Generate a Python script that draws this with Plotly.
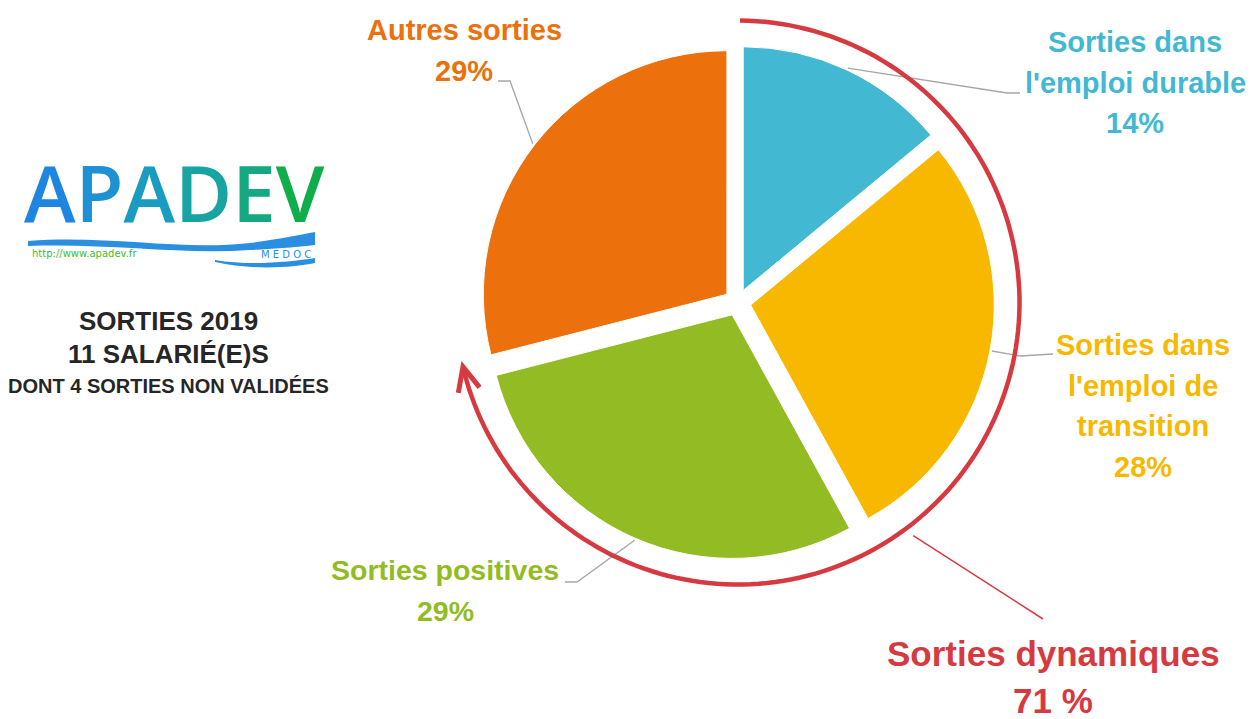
import math
import plotly.graph_objects as go

# ---- data ----
categories = ["Sorties dans<br>l'emploi durable", "Sorties dans<br>l'emploi de<br>transition",
              "Sorties positives", "Autres sorties"]
values = [14, 28, 29, 29]
pct_labels = ["14%", "28%", "29%", "29%"]
colors = ["#42B8D3", "#F8B800", "#92BB24", "#EC700B"]
dynamic_label = "Sorties dynamiques"
dynamic_share = 71  # %
header_lines = ["SORTIES 2019", "11 SALARIÉ(E)S", "DONT 4 SORTIES NON VALIDÉES"]

W, H = 1260, 719
OFF = 8  # page body margin: axes below are set so coordinates = screen pixels
FONT = "Liberation Sans, Arial, sans-serif"

# pie geometry (screen pixels)
CX, CY, HALF = 737.5, 302.5, 257
PULL = 0.055
R = HALF / (1 + PULL)

fig = go.Figure()
fig.add_trace(go.Pie(
    labels=[c.replace("<br>", " ") for c in categories], values=values,
    marker=dict(colors=colors, line=dict(color="white", width=1)),
    sort=False, direction="clockwise", rotation=0, pull=[PULL] * 4,
    textinfo="none", showlegend=False, hoverinfo="label+percent",
    domain=dict(x=[(CX - OFF - HALF) / W, (CX - OFF + HALF) / W],
                y=[1 - (CY - OFF + HALF) / H, 1 - (CY - OFF - HALF) / H]),
))

fig.update_xaxes(range=[OFF, W + OFF], visible=False, fixedrange=True)
fig.update_yaxes(range=[H + OFF, OFF], visible=False, fixedrange=True)
fig.add_trace(go.Scatter(x=[OFF], y=[OFF], mode="markers", marker=dict(opacity=0),
                         showlegend=False, hoverinfo="skip"))


def pt(theta_deg, r):
    t = math.radians(theta_deg)
    return CX + r * math.sin(t), CY - r * math.cos(t)


total = sum(values)
cum = 0
mids = []
for v in values:
    mids.append((cum + v / 2) / total * 360)
    cum += v

# leader lines and label layout
elbows = [[(1007, 93), (1020, 93)],
          [(1020, 356), (1053, 354)],
          [(577, 582), (565, 582)],
          [(510, 81), (498, 81)]]
label_x = [1135, 1143, 445, 464]
label_y0 = [42, 345, 570, 30]   # centre of first line
line_gap = 40.5
label_size = [29, 29, 28.5, 29]
for i in range(4):
    sx, sy = pt(mids[i], R * (1 + PULL) + 2)
    pts = [(sx, sy)] + elbows[i]
    fig.add_shape(type="path", xref="x", yref="y",
                  path="M " + " L ".join(f"{x:.1f},{y:.1f}" for x, y in pts),
                  line=dict(color="#A6A6A6", width=1.3))
    lines = categories[i].split("<br>") + [pct_labels[i]]
    for k, txt in enumerate(lines):
        fig.add_annotation(x=label_x[i], y=label_y0[i] + k * line_gap, xref="x", yref="y",
                           text=f"<b>{txt}</b>", showarrow=False,
                           xanchor="center", yanchor="middle",
                           font=dict(family=FONT, size=label_size[i], color=colors[i]))

# red arc for "Sorties dynamiques"
RED = "#D63A40"
ARC_R = 282
end_deg = dynamic_share / 100 * 360
n = 150
arc_pts = [pt(0.5 + (end_deg - 0.5) * k / n, ARC_R) for k in range(n + 1)]
fig.add_shape(type="path", xref="x", yref="y",
              path="M " + " L ".join(f"{x:.1f},{y:.1f}" for x, y in arc_pts),
              line=dict(color=RED, width=4.5))
tx, ty = pt(end_deg + 1.2, ARC_R)
t = math.radians(end_deg)
dx, dy = math.cos(t), math.sin(t)
px, py = -dy, dx
back, spread = 24, 11
a1 = (tx - back * dx + spread * px, ty - back * dy + spread * py)
a2 = (tx - back * dx - spread * px, ty - back * dy - spread * py)
fig.add_shape(type="path", xref="x", yref="y",
              path=f"M {a1[0]:.1f},{a1[1]:.1f} L {tx:.1f},{ty:.1f} L {a2[0]:.1f},{a2[1]:.1f}",
              line=dict(color=RED, width=5))
lx, ly = pt(143, ARC_R + 10)
fig.add_shape(type="line", xref="x", yref="y", x0=lx, y0=ly, x1=1043, y1=619,
              line=dict(color=RED, width=1.5))
for k, txt in enumerate([dynamic_label, f"{dynamic_share} %"]):
    fig.add_annotation(x=1053, y=653 + k * 47, xref="x", yref="y", text=f"<b>{txt}</b>",
                       showarrow=False, xanchor="center", yanchor="middle",
                       font=dict(family=FONT, size=35, color=RED))

# header text
hdr_y = [321, 354, 386]
hdr_size = [26, 26, 20]
for txt, y, s in zip(header_lines, hdr_y, hdr_size):
    fig.add_annotation(x=168, y=y, xref="x", yref="y", text=f"<b>{txt}</b>",
                       showarrow=False, xanchor="center", yanchor="middle",
                       font=dict(family=FONT, size=s, color="#262626"))

# logo
logo_cols = ["#1E86E0", "#1C92D4", "#1A9CC0", "#17A4A2", "#15A982", "#0FAE4A"]
logo_txt = "".join(f'<span style="color:{c}">{L}</span>' for L, c in zip("APADEV", logo_cols))
fig.add_annotation(x=174, y=192, xref="x", yref="y", text=logo_txt, showarrow=False,
                   xanchor="center", yanchor="middle",
                   font=dict(family="Open Sans, Lato, sans-serif", size=78, weight=600,
                             color="#1E86E0"))
fig.add_shape(type="path", xref="x", yref="y", line=dict(width=0), fillcolor="#2A8FE0",
              path="M 28,241 C 110,235 180,251 250,243 C 280,239 300,235 315,232 "
                   "L 315,245 C 290,248 270,249 250,250 C 180,255 110,243 28,246 Z")
fig.add_shape(type="path", xref="x", yref="y", line=dict(width=0), fillcolor="#2A8FE0",
              path="M 215,260 C 250,266 290,262 315,258 L 315,263 C 290,268 250,270 215,262 Z")
fig.add_annotation(x=30, y=253, xref="x", yref="y", text="http://www.apadev.fr",
                   showarrow=False, xanchor="left", yanchor="middle",
                   font=dict(family="DejaVu Sans", size=10, color="#3CBF2A"))
fig.add_annotation(x=313, y=254, xref="x", yref="y", text="M E D O C",
                   showarrow=False, xanchor="right", yanchor="middle",
                   font=dict(family="DejaVu Sans", size=10, color="#2A8FE0"))

fig.update_layout(width=W, height=H, margin=dict(l=0, r=0, t=0, b=0),
                  paper_bgcolor="white", plot_bgcolor="rgba(0,0,0,0)")
fig.write_html("out.html")
